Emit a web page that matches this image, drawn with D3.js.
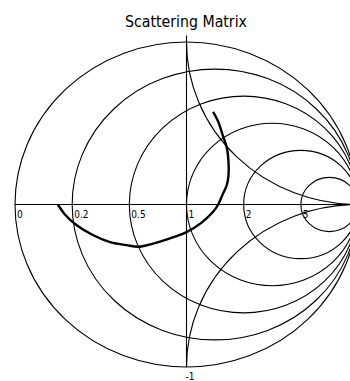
<html>
    <head>
        <style>
            body {
                margin: 0;
                background: white;
            }

            svg {
                display: block;
            }

            .title {
                font-family: "DejaVu Sans Condensed";
                font-size: 15px;
            }

            .tick-label {
                font-family: "DejaVu Sans Condensed";
                font-size: 10px;
            }
        </style>
    </head>

    <body>
        <svg width="350" height="381"></svg>

        <script src="https://d3js.org/d3.v7.min.js"></script>

        <script>
            // constant resistance circles and their labels
            let rValues = [0, 0.2, 0.5, 1, 2, 5]
            let rLabels = ["0", "0.2", "0.5", "1", "2", "5"]

            // constant reactance arcs
            let xValues = [1, -1]
            let xLabels = ["-1"]

            let s11Re = [-0.75, -0.71, -0.65, -0.56, -0.45, -0.35, -0.28, -0.21, -0.10, 0.00,
                         0.09, 0.155, 0.185, 0.21, 0.235, 0.245, 0.245, 0.235, 0.21, 0.185, 0.155]
            let s11Im = [0.00, -0.06, -0.12, -0.18, -0.23, -0.25, -0.26, -0.245, -0.21, -0.17,
                         -0.11, -0.045, 0.00, 0.06, 0.12, 0.18, 0.26, 0.35, 0.43, 0.51, 0.57]

            let svg = d3.select("svg")

            let x = d3.scaleLinear()
                .domain([-1, 1])
                .range([15, 358])

            let y = d3.scaleLinear()
                .domain([-1, 1])
                .range([367, 42])

            svg.append("text")
                .attr("class", "title")
                .attr("x", 186)
                .attr("y", 27)
                .attr("text-anchor", "middle")
                .attr("textLength", 122)
                .attr("lengthAdjust", "spacingAndGlyphs")
                .text("Scattering Matrix")

            let grid = svg.append("g")
                .attr("fill", "none")
                .attr("stroke", "black")
                .attr("stroke-width", 1.1)

            // axes through the centre
            grid.append("line")
                .attr("x1", x(-1))
                .attr("x2", x(1))
                .attr("y1", y(0))
                .attr("y2", y(0))

            grid.append("line")
                .attr("x1", x(0))
                .attr("x2", x(0))
                .attr("y1", y(-1))
                .attr("y2", y(1.04))

            // resistance circles
            grid.selectAll(".rcircle")
                .data(rValues)
                .join("ellipse")
                .attr("class", "rcircle")
                .attr("cx", d => x(d / (1 + d)))
                .attr("cy", y(0))
                .attr("rx", d => x(d / (1 + d) + 1 / (1 + d)) - x(d / (1 + d)))
                .attr("ry", d => y(0) - y(1 / (1 + d)))

            // reactance arcs, from the rim to the open-circuit point
            grid.selectAll(".xarc")
                .data(xValues)
                .join("path")
                .attr("class", "xarc")
                .attr("d", d => {
                    let rad = 1 / Math.abs(d)
                    let gRe = (d * d - 1) / (d * d + 1)
                    let gIm = 2 * d / (d * d + 1)
                    let rx = x(rad) - x(0)
                    let ry = y(0) - y(rad)
                    return "M" + x(gRe) + "," + y(gIm) +
                        " A" + rx + "," + ry + " 0 0 " + (d > 0 ? 0 : 1) + " " + x(1) + "," + y(0)
                })

            svg.selectAll(".rlabel")
                .data(rValues)
                .join("text")
                .attr("class", "tick-label")
                .attr("x", d => x((d - 1) / (d + 1)) + 2)
                .attr("y", y(0) + 13)
                .text((d, i) => rLabels[i])

            svg.append("text")
                .attr("class", "tick-label")
                .attr("x", x(0) - 1)
                .attr("y", 380)
                .text(xLabels[0])

            let curve = d3.line()
                .x(d => x(d[0]))
                .y(d => y(d[1]))
                .curve(d3.curveCatmullRom)

            svg.append("path")
                .datum(s11Re.map((d, i) => [d, s11Im[i]]))
                .attr("fill", "none")
                .attr("stroke", "black")
                .attr("stroke-width", 2.4)
                .attr("d", curve)
        </script>
    </body>
</html>
